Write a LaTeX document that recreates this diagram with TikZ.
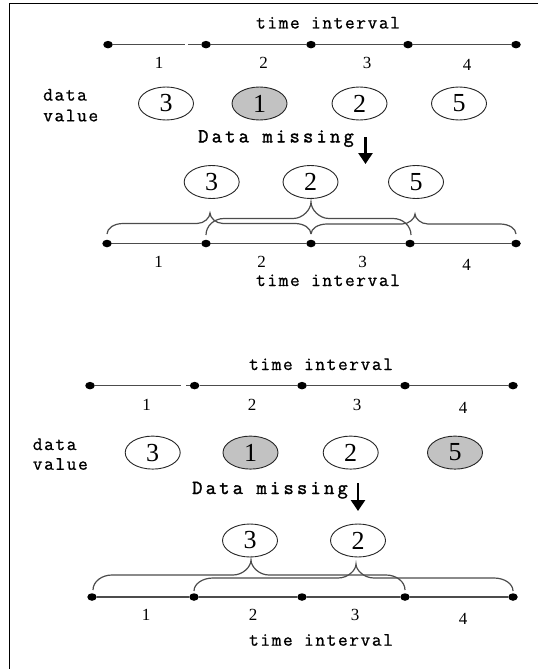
\documentclass[tikz,border=0pt]{standalone}
\usepackage{fontspec}
\usetikzlibrary{shapes.geometric,arrows.meta}
\newfontfamily\lblfont[LetterSpace=8,FakeBold=0.8]{Latin Modern Mono}
\newfontfamily\missfont[LetterSpace=16,FakeBold=1.6]{Latin Modern Mono}
\newfontfamily\numfont{Liberation Serif}
\tikzset{
 dotn/.style={ellipse, fill=black, inner sep=0pt, minimum width=9.5pt, minimum height=7.5pt},
 tl/.style={line width=1.3pt, draw=black!70},
 valc/.style={ellipse, draw=black!85, line width=0.9pt, minimum width=55pt, minimum height=33pt, inner sep=0pt, font=\numfont\fontsize{26}{26}\selectfont},
 gone/.style={valc, fill=black!24},
 lbl/.style={inner sep=0pt, font=\lblfont\fontsize{19}{19}\selectfont, anchor=base},
 tick/.style={inner sep=0pt, font=\numfont\fontsize{17}{17}\selectfont, anchor=base},
 miss/.style={inner sep=0pt, font=\missfont\fontsize{20}{20}\selectfont, anchor=base},
 side/.style={inner sep=0pt, font=\lblfont\fontsize{19}{19}\selectfont, anchor=west},
 brc/.style={line width=1.2pt, draw=black!70},
 downarrow/.style={line width=2.6pt, -{Triangle[width=14pt,length=11pt]}},
 frame/.style={line width=1.8pt, draw=black}
}
% #1 x1, #2 x2, #3 xtip, #4 y ends, #5 y body, #6 y tip, #7 end radius, #8 tip radius
\newcommand{\mbrace}[8]{\draw[brc]
 (#1,#4) .. controls (#1,#4-0.552*#4+0.552*#5) and (#1+0.448*#7,#5) .. (#1+#7,#5)
 -- (#3-#8,#5) .. controls (#3-0.448*#8,#5) and (#3,#6+0.448*#5-0.448*#6) .. (#3,#6)
 .. controls (#3,#6+0.448*#5-0.448*#6) and (#3+0.448*#8,#5) .. (#3+#8,#5)
 -- (#2-#7,#5) .. controls (#2-0.448*#7,#5) and (#2,#4-0.552*#4+0.552*#5) .. (#2,#4);}
\begin{document}
\begin{tikzpicture}[x=1pt,y=-1pt]
\useasboundingbox (0,0) rectangle (538,669);
% frame
\coordinate (fr1) at (538,3.5);
\coordinate (fr2) at (9.5,3.5);
\coordinate (fr3) at (9.5,669);
\draw[frame] (fr1) -- (fr2) -- (fr3);

% ===== Section 1 top =====
\node[lbl] (ti1) at (328,28.5) {time interval};
\node[dotn] (a1) at (108,44.6) {};
\node[dotn] (a2) at (206,44.6) {};
\node[dotn] (a3) at (311,44.6) {};
\node[dotn] (a4) at (408,44.6) {};
\node[dotn] (a5) at (516,44.6) {};
\coordinate (a1g) at (185,44.6);
\coordinate (a2g) at (188,44.6);
\draw[tl] (a1) -- (a1g);
\draw[tl] (a2g) -- (a2);
\draw[tl] (a2) -- (a3);
\draw[tl] (a3) -- (a4);
\draw[tl] (a4) -- (a5);
\node[tick] (na1) at (159,68.6) {1};
\node[tick] (na2) at (263.5,68.6) {2};
\node[tick] (na3) at (367,68.6) {3};
\node[tick] (na4) at (467,70.5) {4};
\node[side] (da1) at (43,94.8) {data};
\node[side] (va1) at (43,115.6) {value};
\node[valc] (v11) at (166,103.5) {3};
\node[gone] (v12) at (259.5,103.5) {1};
\node[valc] (v13) at (359.5,103.5) {2};
\node[valc] (v14) at (459,103.5) {5};
\node[miss] (m1) at (276,142.4) {Data missing};
\coordinate (r1s) at (365.5,137);
\coordinate (r1e) at (365.5,164);
\draw[downarrow] (r1s) -- (r1e);

% ===== Section 1 bottom =====
\node[valc] (w11) at (211.7,182) {3};
\node[valc] (w12) at (310.5,182) {2};
\node[valc] (w13) at (416,182) {5};
\node[dotn] (b1) at (107,243.5) {};
\node[dotn] (b2) at (206,243.5) {};
\node[dotn] (b3) at (311,243.5) {};
\node[dotn] (b4) at (410,243.5) {};
\node[dotn] (b5) at (516,243.5) {};
\draw[tl] (b1) -- (b2);
\draw[tl] (b2) -- (b3);
\draw[tl] (b3) -- (b4);
\draw[tl] (b4) -- (b5);
\mbrace{107}{311}{210}{234}{223.5}{213}{16}{13}
\mbrace{206}{411}{311}{235}{218.5}{202}{18}{18}
\mbrace{311}{516}{415}{234}{224}{214}{16}{13}
\node[tick] (nb1) at (158.7,267) {1};
\node[tick] (nb2) at (261.7,267) {2};
\node[tick] (nb3) at (362.7,267) {3};
\node[tick] (nb4) at (466.7,270.5) {4};
\node[lbl] (ti2) at (328,286) {time interval};

% ===== Section 2 top =====
\node[lbl] (ti3) at (321,370) {time interval};
\node[dotn] (c1) at (90,385.6) {};
\node[dotn] (c2) at (194.6,385.6) {};
\node[dotn] (c3) at (302,385.6) {};
\node[dotn] (c4) at (405,385.6) {};
\node[dotn] (c5) at (513,385.6) {};
\coordinate (c1g) at (181,385.6);
\coordinate (c2g) at (186,385.6);
\draw[tl] (c1) -- (c1g);
\draw[tl] (c2g) -- (c2);
\draw[tl] (c2) -- (c3);
\draw[tl] (c3) -- (c4);
\draw[tl] (c4) -- (c5);
\node[tick] (nc1) at (146.5,410.3) {1};
\node[tick] (nc2) at (252,410.3) {2};
\node[tick] (nc3) at (357,410.3) {3};
\node[tick] (nc4) at (463,413.8) {4};
\node[side] (da2) at (32.6,444.3) {data};
\node[side] (va2) at (32.6,464) {value};
\node[valc] (v21) at (152.7,452.6) {3};
\node[gone] (v22) at (250.5,452.6) {1};
\node[valc] (v23) at (350.7,452.6) {2};
\node[gone] (v24) at (455,452.6) {5};
\node[miss] (m2) at (270,494) {Data missing};
\coordinate (r2s) at (358,483);
\coordinate (r2e) at (358,511);
\draw[downarrow] (r2s) -- (r2e);

% ===== Section 2 bottom =====
\node[valc] (w21) at (250,540.5) {3};
\node[valc] (w22) at (358,540.5) {2};
\node[dotn] (d1) at (92,597) {};
\node[dotn] (d2) at (194,597) {};
\node[dotn] (d3) at (302,597) {};
\node[dotn] (d4) at (405,597) {};
\node[dotn] (d5) at (513,597) {};
\draw[tl] (d1) -- (d2);
\draw[tl] (d2) -- (d3);
\draw[tl] (d3) -- (d4);
\draw[tl] (d4) -- (d5);
\mbrace{93}{405}{251}{590}{575}{560}{19}{18}
\mbrace{194}{513}{356}{591}{578}{564}{19}{18}
\node[tick] (nd1) at (146,620.5) {1};
\node[tick] (nd2) at (253,620.5) {2};
\node[tick] (nd3) at (355,620.5) {3};
\node[tick] (nd4) at (463,624) {4};
\node[lbl] (ti4) at (321,645.7) {time interval};
\end{tikzpicture}
\end{document}
